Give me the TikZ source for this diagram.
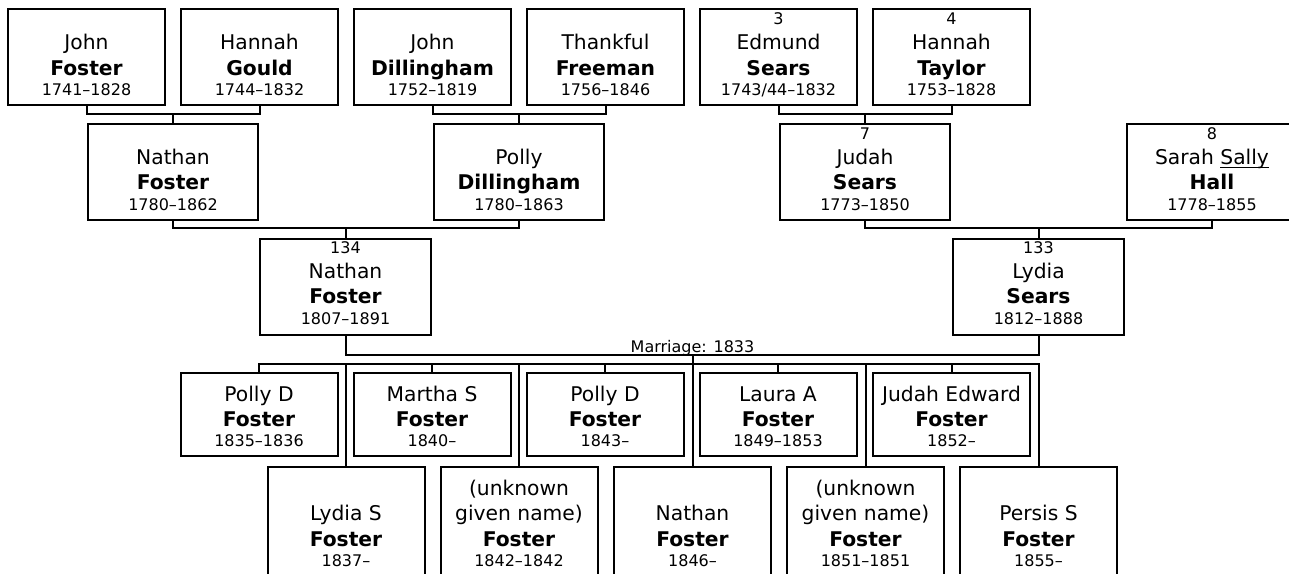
\documentclass[tikz,border=0pt]{standalone}
\usepackage{fontspec}
\setmainfont{DejaVu Sans}
\usepackage{tikz}
\usetikzlibrary{positioning}
\newcommand{\yrs}{\fontsize{12pt}{14pt}\selectfont}
\newcommand{\callname}[1]{\leavevmode\setbox0\hbox{#1}\rlap{\rule[-2.2pt]{\wd0}{0.75pt}}\box0}
\tikzset{
  elder/.style={draw=black, line width=1.5pt, minimum width=117.75pt, minimum height=72pt, inner sep=0pt},
  parent/.style={elder, minimum width=128pt},
  child/.style={elder, minimum height=62.7pt},
  lastchild/.style={elder, minimum height=81.75pt},
  who/.style={align=center, inner sep=0pt, outer sep=0pt, font=\fontsize{15.2pt}{19pt}\selectfont},
  note/.style={inner sep=0pt, outer sep=0pt, font=\yrs},
  link/.style={line width=1.5pt, draw=black},
}

\begin{document}
\begin{tikzpicture}[x=0.75pt, y=-0.75pt]
  \path[use as bounding box, fill=white] (0,0) rectangle (1289,574);

  % Great-grandparents
  \node[elder] (jfoster) at (86.5,57) {};
  \node[who, above=7.7pt of jfoster.south] (jfoster-t) {John\\\textbf{Foster}\\[-3.8pt]{\yrs 1741--1828}};
  \node[elder] (hgould) at (259.5,57) {};
  \node[who, above=7.7pt of hgould.south] (hgould-t) {Hannah\\\textbf{Gould}\\[-3.8pt]{\yrs 1744--1832}};
  \node[elder] (jdill) at (432.5,57) {};
  \node[who, above=7.7pt of jdill.south] (jdill-t) {John\\\textbf{Dillingham}\\[-3.8pt]{\yrs 1752--1819}};
  \node[elder] (tfree) at (605.5,57) {};
  \node[who, above=7.7pt of tfree.south] (tfree-t) {Thankful\\\textbf{Freeman}\\[-3.8pt]{\yrs 1756--1846}};
  \node[elder] (esears) at (778.5,57) {};
  \node[who, above=7.7pt of esears.south] (esears-t) {{\yrs 3}\\Edmund\\\textbf{Sears}\\[-3.8pt]{\yrs \smash{1743/44}--1832}};
  \node[elder] (htaylor) at (951.5,57) {};
  \node[who, above=7.7pt of htaylor.south] (htaylor-t) {{\yrs 4}\\Hannah\\\textbf{Taylor}\\[-3.8pt]{\yrs 1753--1828}};

  % Grandparents
  \node[parent] (nfoster) at (173,171.7) {};
  \node[who, above=7.7pt of nfoster.south] (nfoster-t) {Nathan\\\textbf{Foster}\\[-3.8pt]{\yrs 1780--1862}};
  \node[parent] (pdill) at (519,171.7) {};
  \node[who, above=7.7pt of pdill.south] (pdill-t) {Polly\\\textbf{Dillingham}\\[-3.8pt]{\yrs 1780--1863}};
  \node[parent] (jsears) at (865,171.7) {};
  \node[who, above=7.7pt of jsears.south] (jsears-t) {{\yrs 7}\\Judah\\\textbf{Sears}\\[-3.8pt]{\yrs 1773--1850}};
  \node[parent] (shall) at (1212,171.7) {};
  \node[who, above=7.7pt of shall.south] (shall-t) {{\yrs 8}\\Sarah \callname{Sally}\\\textbf{Hall}\\[-3.8pt]{\yrs 1778--1855}};

  % Parents
  \node[parent] (nathan) at (345.5,286.7) {};
  \node[who, above=8.5pt of nathan.south] (nathan-t) {{\yrs 134}\\Nathan\\\textbf{Foster}\\[-3.8pt]{\yrs 1807--1891}};
  \node[parent] (lydia) at (1038.5,286.7) {};
  \node[who, above=8.5pt of lydia.south] (lydia-t) {{\yrs 133}\\Lydia\\\textbf{Sears}\\[-3.8pt]{\yrs 1812--1888}};

  % Children, upper row
  \node[child] (pollyA) at (259,414.5) {};
  \node[who, above=7.7pt of pollyA.south] (pollyA-t) {Polly D\\\textbf{Foster}\\[-3.8pt]{\yrs 1835--1836}};
  \node[child] (martha) at (432,414.5) {};
  \node[who, above=7.7pt of martha.south] (martha-t) {Martha S\\\textbf{Foster}\\[-3.8pt]{\yrs 1840--}};
  \node[child] (pollyB) at (605,414.5) {};
  \node[who, above=7.7pt of pollyB.south] (pollyB-t) {Polly D\\\textbf{Foster}\\[-3.8pt]{\yrs 1843--}};
  \node[child] (laura) at (778,414.5) {};
  \node[who, above=7.7pt of laura.south] (laura-t) {Laura A\\\textbf{Foster}\\[-3.8pt]{\yrs 1849--1853}};
  \node[child] (judahE) at (951.5,414.5) {};
  \node[who, above=7.7pt of judahE.south] (judahE-t) {Judah Edward\\\textbf{Foster}\\[-3.8pt]{\yrs 1852--}};

  % Children, lower row
  \node[lastchild] (lydiaS) at (346,521.5) {};
  \node[who, above=7.7pt of lydiaS.south] (lydiaS-t) {Lydia S\\\textbf{Foster}\\[-3.8pt]{\yrs 1837--}};
  \node[lastchild] (unknownA) at (519,521.5) {};
  \node[who, above=7.7pt of unknownA.south] (unknownA-t) {(unknown\\given name)\\\textbf{Foster}\\[-3.8pt]{\yrs 1842--1842}};
  \node[lastchild] (nathanJ) at (692.5,521.5) {};
  \node[who, above=7.7pt of nathanJ.south] (nathanJ-t) {Nathan\\\textbf{Foster}\\[-3.8pt]{\yrs 1846--}};
  \node[lastchild] (unknownB) at (865.5,521.5) {};
  \node[who, above=7.7pt of unknownB.south] (unknownB-t) {(unknown\\given name)\\\textbf{Foster}\\[-3.8pt]{\yrs 1851--1851}};
  \node[lastchild] (persis) at (1038.5,521.5) {};
  \node[who, above=7.7pt of persis.south] (persis-t) {Persis S\\\textbf{Foster}\\[-3.8pt]{\yrs 1855--}};

  % Couples
  \draw[link] (jfoster.south) -- ++(0,8.5) -| (hgould.south);
  \draw[link] (nfoster.north) -- ++(0,-8.2);
  \draw[link] (jdill.south) -- ++(0,8.5) -| (tfree.south);
  \draw[link] (pdill.north) -- ++(0,-8.2);
  \draw[link] (esears.south) -- ++(0,8.5) -| (htaylor.south);
  \draw[link] (jsears.north) -- ++(0,-8.2);
  \draw[link] (nfoster.south) -- ++(0,7.8) -| (pdill.south);
  \draw[link] (nathan.north) -- ++(0,-8.8);
  \draw[link] (jsears.south) -- ++(0,7.8) -| (shall.south);
  \draw[link] (lydia.north) -- ++(0,-8.8);

  % Marriage and children
  \coordinate (wed) at (692.5,355);
  \coordinate (kids) at (692.5,364);
  \draw[link] (nathan.south) |- (wed) -| (lydia.south);
  \node[note, anchor=base] (wed-t) at ([yshift=2pt]wed) {Marriage: 1833};
  \draw[link] (wed) -- (nathanJ.north);
  \draw[link] (pollyA.north) |- (kids) -| (persis.north);
  \draw[link] (martha.north) -- (martha.north |- kids);
  \draw[link] (pollyB.north) -- (pollyB.north |- kids);
  \draw[link] (laura.north) -- (laura.north |- kids);
  \draw[link] (judahE.north) -- (judahE.north |- kids);
  \draw[link] (lydiaS.north) -- (lydiaS.north |- kids);
  \draw[link] (unknownA.north) -- (unknownA.north |- kids);
  \draw[link] (unknownB.north) -- (unknownB.north |- kids);
\end{tikzpicture}
\end{document}
